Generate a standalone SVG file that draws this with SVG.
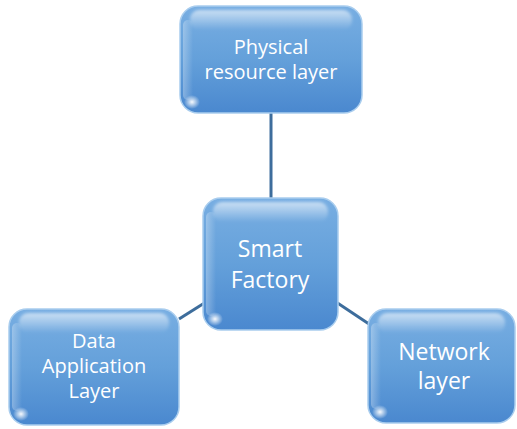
<svg xmlns="http://www.w3.org/2000/svg" width="517" height="429" viewBox="0 0 517 429">
  <defs>
    <linearGradient id="fill" x1="0" y1="0" x2="0" y2="1">
      <stop offset="0" stop-color="#78aee2"/>
      <stop offset="0.5" stop-color="#64a0da"/>
      <stop offset="1" stop-color="#4a88cf"/>
    </linearGradient>
    <linearGradient id="gloss" x1="0" y1="0" x2="0" y2="1">
      <stop offset="0" stop-color="#ffffff" stop-opacity="0.6"/>
      <stop offset="1" stop-color="#ffffff" stop-opacity="0"/>
    </linearGradient>
    <linearGradient id="side" x1="0" y1="0" x2="1" y2="0">
      <stop offset="0" stop-color="#ffffff" stop-opacity="0.3"/>
      <stop offset="1" stop-color="#ffffff" stop-opacity="0"/>
    </linearGradient>
    <radialGradient id="spot" cx="0.5" cy="0.5" r="0.5">
      <stop offset="0" stop-color="#ffffff" stop-opacity="0.95"/>
      <stop offset="1" stop-color="#ffffff" stop-opacity="0"/>
    </radialGradient>
    <filter id="soft" x="-20%" y="-20%" width="140%" height="140%">
      <feGaussianBlur stdDeviation="1.5"/>
    </filter>
  </defs>
  <style>
    .box { fill: url(#fill); stroke: #a9cdee; stroke-width: 1.5; }
    .gloss { fill: url(#gloss); filter: url(#soft); }
    .side { fill: url(#side); }
    .spot { fill: url(#spot); }
    .label { font-family: "Open Sans", "Liberation Sans", sans-serif; fill: #ffffff; text-anchor: middle; }
    .link { stroke: #3d6d9c; stroke-width: 3; fill: none; }
  </style>

  <g id="connectors">
    <line class="link" x1="271" y1="113" x2="271" y2="198"/>
    <line class="link" x1="179" y1="319" x2="206" y2="302"/>
    <line class="link" x1="336" y1="302" x2="369" y2="324"/>
  </g>

  <g id="physical-resource-layer">
    <rect class="box" x="180" y="6" width="182" height="107" rx="18"/>
    <rect class="gloss" x="190" y="10" width="162" height="20" rx="9"/>
    <rect class="side" x="183" y="20" width="10" height="80" rx="5"/>
    <ellipse class="spot" cx="192" cy="102" rx="8" ry="7"/>
    <text class="label" x="271" y="54" font-size="20">Physical</text>
    <text class="label" x="271" y="79" font-size="20">resource layer</text>
  </g>

  <g id="smart-factory">
    <rect class="box" x="203" y="198" width="135" height="132" rx="18"/>
    <rect class="gloss" x="213" y="202" width="115" height="20" rx="9"/>
    <rect class="side" x="206" y="212" width="10" height="104" rx="5"/>
    <ellipse class="spot" cx="215" cy="319" rx="8" ry="7"/>
    <text class="label" x="270" y="257" font-size="23">Smart</text>
    <text class="label" x="270" y="288" font-size="23">Factory</text>
  </g>

  <g id="data-application-layer">
    <rect class="box" x="9" y="309" width="170" height="116" rx="18"/>
    <rect class="gloss" x="19" y="313" width="150" height="20" rx="9"/>
    <rect class="side" x="12" y="323" width="10" height="88" rx="5"/>
    <ellipse class="spot" cx="21" cy="414" rx="8" ry="7"/>
    <text class="label" x="94" y="348" font-size="20">Data</text>
    <text class="label" x="94" y="373" font-size="20">Application</text>
    <text class="label" x="94" y="398" font-size="20">Layer</text>
  </g>

  <g id="network-layer">
    <rect class="box" x="368" y="309" width="147" height="114" rx="18"/>
    <rect class="gloss" x="378" y="313" width="127" height="20" rx="9"/>
    <rect class="side" x="371" y="323" width="10" height="86" rx="5"/>
    <ellipse class="spot" cx="380" cy="412" rx="8" ry="7"/>
    <text class="label" x="444" y="360" font-size="23">Network</text>
    <text class="label" x="444" y="389" font-size="23">layer</text>
  </g>
</svg>
